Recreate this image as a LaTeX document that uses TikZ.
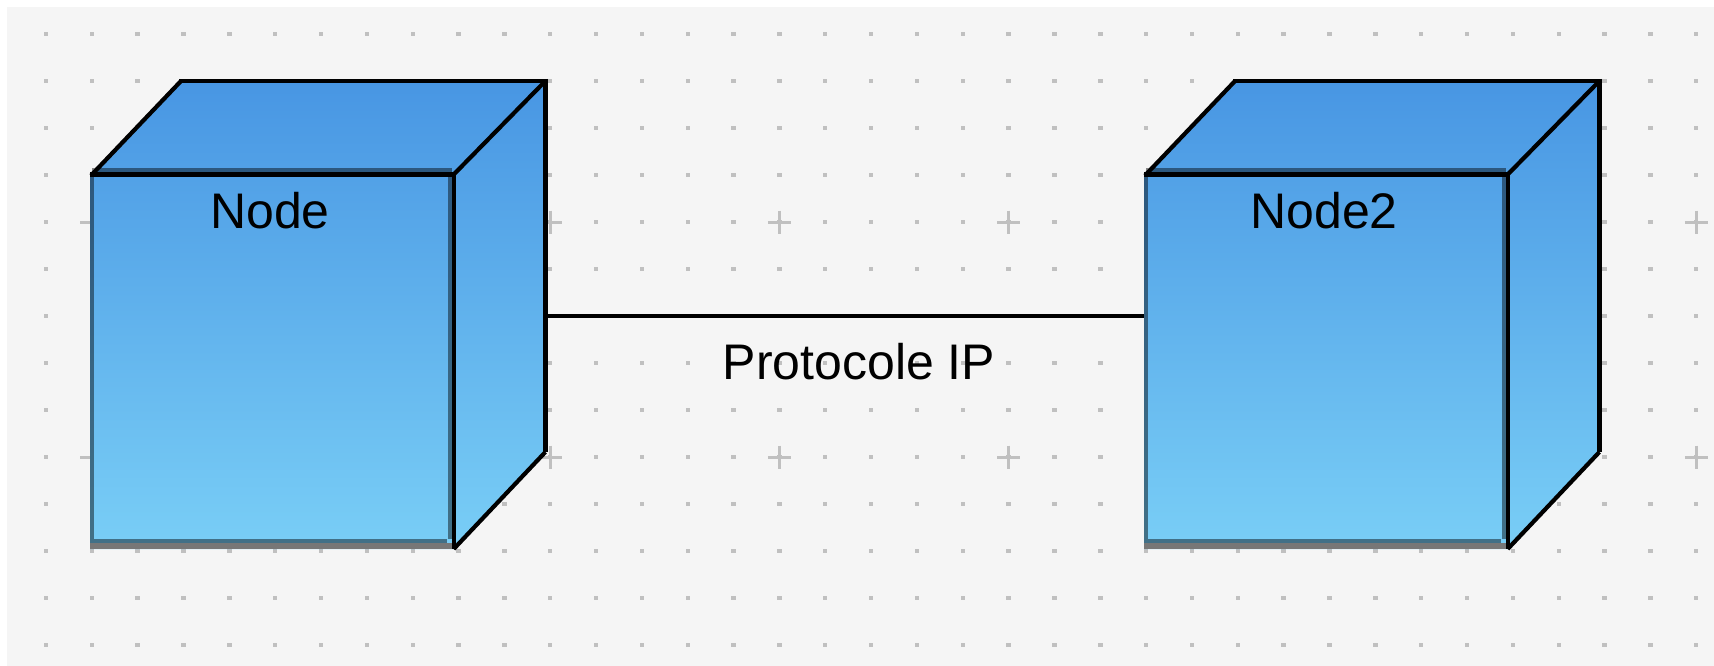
\documentclass[tikz,border=0pt]{standalone}
\usepackage{fontspec}
\setmainfont{Liberation Sans}
\definecolor{bgc}{HTML}{F5F5F5}
\definecolor{gridc}{HTML}{C0C0C0}
\definecolor{cubetop}{HTML}{4896E3}
\definecolor{cubebot}{HTML}{79CEF6}
\definecolor{shadowc}{HTML}{777777}
\tikzset{
  cubeedge/.style={draw=black,line width=4.2pt},
  cubedark/.style={draw=black,draw opacity=0.45,line width=4pt},
  crossline/.style={draw=gridc,line width=3pt},
  connector/.style={draw=black,line width=3.8pt},
  bigtext/.style={font=\fontsize{50}{60}\selectfont,text=black,inner sep=0pt,anchor=base}
}
\newcommand\deploycube[3]{%
  \begin{scope}[shift={(#1,0)}]
    \shade[top color=cubetop,bottom color=cubebot]
      (90,176) -- (181,81) -- (545.4,81) -- (545.4,452) -- (455.7,549) -- (90,549) -- cycle;
    \draw[cubedark] (92,170.3) -- (451.7,170.3);
    \draw[cubedark] (92,176.7) -- (92,543.3);
    \draw[cubedark] (449.5,176.7) -- (449.5,539.3);
    \draw[cubedark] (94,541.3) -- (447.3,541.3);
    \fill[shadowc] (90,543.3) rectangle (451.7,549);
    \draw[cubeedge] (90,174.5) -- (455.7,174.5);
    \draw[cubeedge] (453.7,172.3) -- (453.7,549);
    \draw[cubeedge] (179,81) -- (547.5,81);
    \draw[cubeedge] (545.4,79) -- (545.4,452);
    \draw[cubeedge] (91,175.5) -- (181,81);
    \draw[cubeedge] (453.7,174.5) -- (545.4,81);
    \draw[cubeedge] (453.7,549) -- (545.4,452);
    \node[bigtext] (#2) at (270,228) {#3};
  \end{scope}}
\begin{document}
\begin{tikzpicture}[x=1pt,y=-1pt]
  \useasboundingbox (0,0) rectangle (1714,666);
  \fill[bgc] (7,7) rectangle (1714,666);
  \foreach \i in {0,...,36}{
    \foreach \j in {0,...,13}{
      \fill[gridc] ({46+45.84*\i-2.2},{34+47*\j-2}) rectangle +(4.4,4);
    }
  }
  \foreach \i in {1,6,...,36}{
    \foreach \j in {4,9}{
      \draw[crossline] ({46+45.84*\i-11.5},{34+47*\j}) -- +(23,0);
      \draw[crossline] ({46+45.84*\i},{34+47*\j-11.5}) -- +(0,23);
    }
  }
  \deploycube{0}{node1}{Node}
  \deploycube{1054}{node2}{Node2}
  \coordinate (n1r) at (547.5,315.7);
  \coordinate (n2l) at (1144,315.7);
  \draw[connector] (n1r) -- (n2l);
  \node[bigtext] (lbl) at (859,379) {Protocole IP};
\end{tikzpicture}
\end{document}
